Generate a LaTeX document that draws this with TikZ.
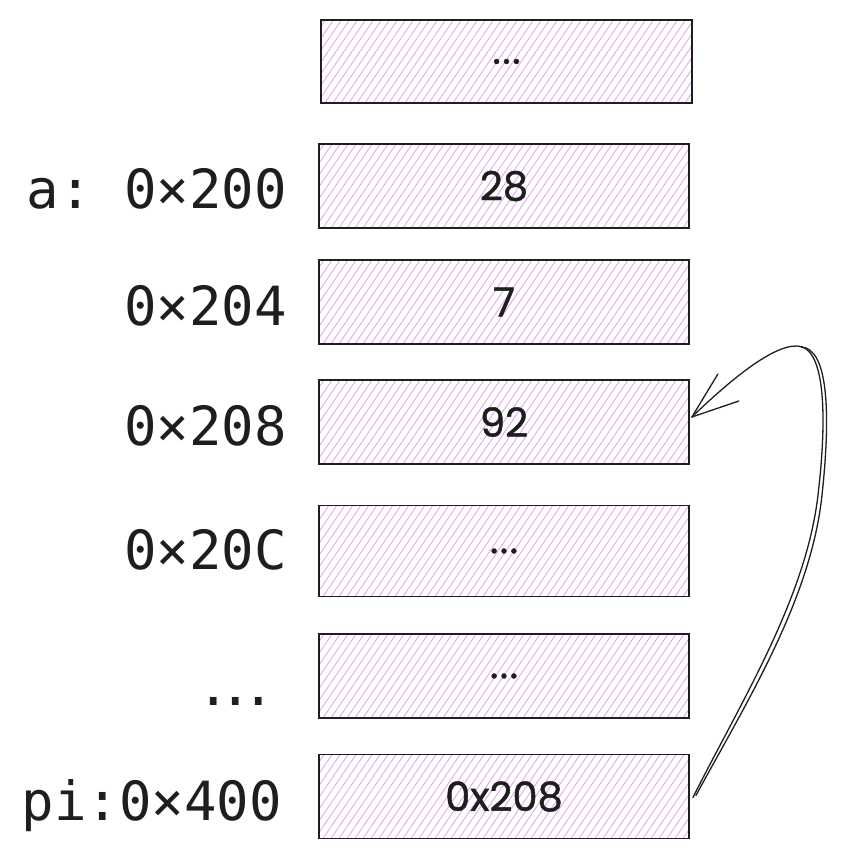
\documentclass[tikz,border=0pt]{standalone}
\usepackage{fontspec}
\setmonofont{DejaVu Sans Mono}
\newfontfamily\handfont[FakeBold=1.2]{Poppins}
\begin{document}
\begin{tikzpicture}[x=1pt,y=-1pt,
  ink/.style={draw=inkc},
  hatchline/.style={draw=hatchc,line width=0.9pt},
  mem/.style={ink,line width=1.8pt,minimum width=370pt,minimum height=84pt,inner sep=0pt,
    font=\handfont\fontsize{40}{40}\selectfont,text=inkc,
    path picture={
      \foreach \k in {-100,-92,...,380}{
        \draw[hatchline] ([xshift=\k pt]path picture bounding box.south west) -- ++(68pt,100pt);
      }
    }},
  addr/.style={anchor=base east,inner sep=0pt,text=inkc,font=\ttfamily\fontsize{54}{54}\selectfont},
  conn/.style={draw=inkc,line width=1.3pt,line cap=round,line join=round}
]
\definecolor{inkc}{HTML}{1E1E1E}
\definecolor{hatchc}{HTML}{E3A6F3}
\useasboundingbox (0,0) rectangle (842,858);

\node[mem,minimum width=371pt,minimum height=83pt] (b1) at (506.5,61.5) {.\kern1.5pt.\kern1.5pt.};
\node[mem] (b2) at (504,186) {28};
\node[mem] (b3) at (504,302) {7};
\node[mem] (b4) at (504,422) {92};
\node[mem,minimum height=91pt] (b5) at (504,551) {.\kern1.5pt.\kern1.5pt.};
\node[mem] (b6) at (504,676) {.\kern1.5pt.\kern1.5pt.};
\node[mem] (b7) at (504,796.5) {0x208};

\node[addr] (l2) at (287,209) {a: 0×200};
\node[addr] (l3) at (287,325) {0×204};
\node[addr] (l4) at (287,445) {0×208};
\node[addr] (l5) at (287,569) {0×20C};
\node[addr] (l6) at (275,705) {.\kern-10pt.\kern-10pt.};
\node[addr] (l7) at (282,820) {pi:0×400};

\coordinate (s1) at ([xshift=3pt,yshift=-1pt]b7.east);
\coordinate (s2) at ([xshift=6pt,yshift=1pt]b7.east);
\coordinate (t) at ([xshift=2pt,yshift=5pt]b4.east);
\draw[conn] (s1) .. controls (742,700) and (806,598) .. (818,495)
  .. controls (828,410) and (824,346) .. (797,346)
  .. controls (770,345) and (722,388) .. (t);
\draw[conn] (s2) .. controls (746,703) and (811,600) .. (822,495)
  .. controls (831,412) and (828,348) .. (801,347);
\draw[conn] (t) -- ++(26,-43);
\draw[conn] (t) -- ++(47,-16);
\end{tikzpicture}
\end{document}
